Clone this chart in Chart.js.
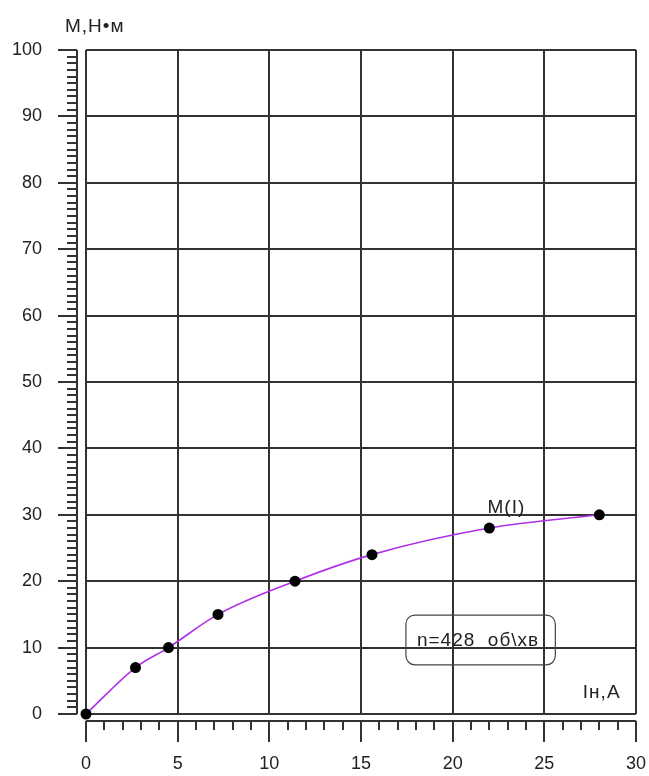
<!DOCTYPE html>
<html lang="uk">
<head>
<meta charset="UTF-8">
<title>M(I)</title>
<script src="https://cdn.jsdelivr.net/npm/chart.js"></script>
<style>
  html, body { margin: 0; padding: 0; background: #fff; overflow: hidden; }
  canvas { display: block; }
</style>
</head>
<body>
<canvas id="chart" width="649" height="776"></canvas>
<script>
// струм навантаження, А
const currentA = [0, 2.7, 4.5, 7.2, 11.4, 15.6, 22, 28];
// момент, Н·м
const torqueNm = [0, 7, 10, 15, 20, 24, 28, 30];

const xMin = 0, xMax = 30, xStep = 5;
const yMin = 0, yMax = 100, yStep = 10;

const yTitle = 'М,Н•м';
const xTitle = 'Iн,А';
const seriesName = 'M(I)';
const noteText = 'n=428  об\\хв';

const FONT = '"Liberation Sans", Arial, sans-serif';

// осі з засічками, винесені за межі поля
const axesPlugin = {
  id: 'offsetAxes',
  afterDraw(chart) {
    const c = chart.ctx, a = chart.chartArea;
    const xs = chart.scales.x, ys = chart.scales.y;
    c.save();
    c.strokeStyle = '#333';
    c.lineWidth = 2;

    // вертикальна вісь
    const ax = a.left - 9;
    c.beginPath();
    c.moveTo(ax, a.top);
    c.lineTo(ax, a.bottom);
    for (let v = yMin; v <= yMax; v += 1) {
      const py = Math.round(ys.getPixelForValue(v));
      const len = v % yStep === 0 ? 19 : 10;
      c.moveTo(ax, py);
      c.lineTo(ax - len, py);
    }
    c.stroke();

    // горизонтальна вісь
    const ay = a.bottom + 7;
    c.beginPath();
    c.moveTo(a.left, ay);
    c.lineTo(a.right, ay);
    for (let v = xMin; v <= xMax; v += 1) {
      const px = Math.round(xs.getPixelForValue(v));
      const len = v % xStep === 0 ? 21 : 9;
      c.moveTo(px, ay);
      c.lineTo(px, ay + len);
    }
    c.stroke();

    // підписи
    c.fillStyle = '#222';
    c.font = '19px ' + FONT;
    c.letterSpacing = '1px';
    c.textBaseline = 'alphabetic';
    c.textAlign = 'left';
    c.fillText(yTitle, a.left - 21, a.top - 18);
    c.fillText(xTitle, xs.getPixelForValue(27.1), ys.getPixelForValue(2.4));
    c.fillText(seriesName, xs.getPixelForValue(21.9), ys.getPixelForValue(30.3));

    // рамка з частотою обертання
    const bx = xs.getPixelForValue(17.45), bx2 = xs.getPixelForValue(25.6);
    const by = ys.getPixelForValue(14.9), by2 = ys.getPixelForValue(7.4);
    c.lineWidth = 1.2;
    c.strokeStyle = '#444';
    c.beginPath();
    c.roundRect(bx, by, bx2 - bx, by2 - by, 9);
    c.stroke();
    c.fillText(noteText, bx + 11, by + 31);
    c.restore();
  }
};

new Chart(document.getElementById('chart'), {
  type: 'scatter',
  data: {
    datasets: [{
      label: seriesName,
      data: currentA.map((x, i) => ({ x: x, y: torqueNm[i] })),
      showLine: true,
      borderColor: '#b030e8',
      borderWidth: 1.6,
      cubicInterpolationMode: 'monotone',
      pointRadius: 5.5,
      pointBackgroundColor: '#000',
      pointBorderColor: '#000',
      pointBorderWidth: 0,
      clip: false
    }]
  },
  options: {
    responsive: false,
    animation: false,
    events: [],
    layout: { padding: { top: 50, right: 13, left: 0, bottom: 0 } },
    plugins: { legend: { display: false }, tooltip: { enabled: false } },
    scales: {
      x: {
        type: 'linear',
        min: xMin, max: xMax,
        afterFit(s) { s.height = 62; s.paddingLeft = 0; s.paddingRight = 0; },
        grid: { color: '#333', lineWidth: 2, drawTicks: false },
        border: { display: false },
        ticks: { stepSize: xStep, padding: 39, maxRotation: 0, color: '#222', font: { family: FONT, size: 18 } }
      },
      y: {
        type: 'linear',
        min: yMin, max: yMax,
        afterFit(s) { s.width = 86; s.paddingTop = 0; s.paddingBottom = 0; },
        grid: { color: '#333', lineWidth: 2, drawTicks: false },
        border: { display: false },
        ticks: { stepSize: yStep, padding: 44, color: '#222', font: { family: FONT, size: 18 } }
      }
    }
  },
  plugins: [axesPlugin]
});
</script>
</body>
</html>
